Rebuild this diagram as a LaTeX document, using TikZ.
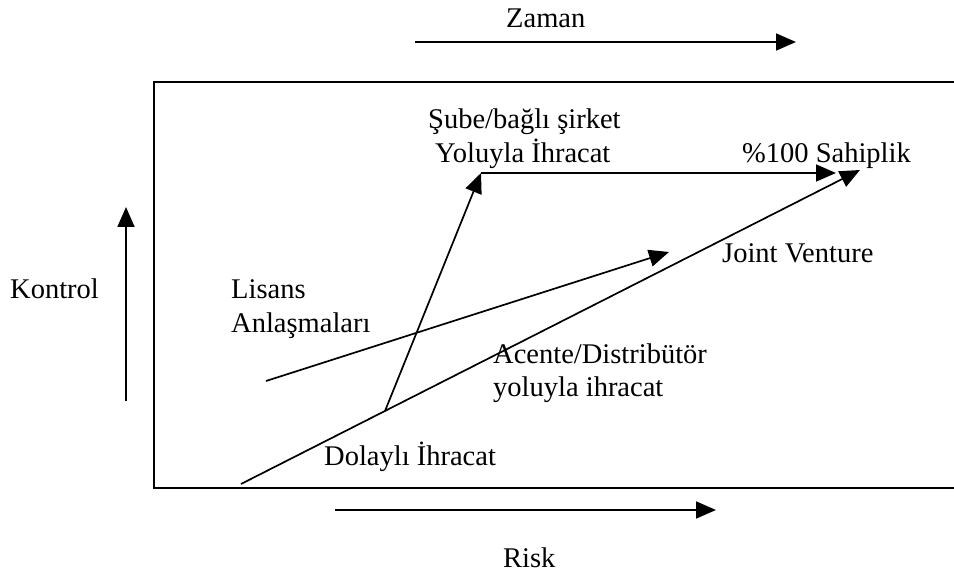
\documentclass[tikz,border=0pt]{standalone}
\usepackage{fontspec}
\setmainfont{Liberation Serif}
\usetikzlibrary{arrows.meta}
\begin{document}
\begin{tikzpicture}[x=1pt,y=-1pt,
  lbl/.style={anchor=base west,inner sep=0pt,font=\fontsize{28.5}{30}\selectfont},
  ln/.style={line width=1.7pt},
  arr/.style={line width=1.7pt,-{Triangle[length=20pt,width=17pt]}}]
\useasboundingbox (0,0) rectangle (954,575);
% frame (open to the right)
\coordinate (fTR) at (954,82);
\coordinate (fTL) at (154,82);
\coordinate (fBL) at (154,488);
\coordinate (fBR) at (954,488);
\draw[ln] (fTR) -- (fTL) -- (fBL) -- (fBR);
% axes
\coordinate (zA) at (415,42); \coordinate (zB) at (796,42);
\draw[arr] (zA) -- (zB);
\coordinate (kA) at (126,401); \coordinate (kB) at (126,207);
\draw[arr] (kA) -- (kB);
\coordinate (rA) at (335,510); \coordinate (rB) at (716,510);
\draw[arr] (rA) -- (rB);
% paths
\coordinate (dStart) at (241,484);
\coordinate (jvEnd) at (860,170);
\coordinate (branch) at (385,411);
\coordinate (corner) at (481,173);
\coordinate (sahEnd) at (836,173);
\coordinate (lStart) at (266,381);
\coordinate (lEnd) at (669,252);
\draw[arr] (dStart) -- (jvEnd);
\draw[arr] (branch) -- (corner);
\draw[arr] (corner) -- (sahEnd);
\draw[arr] (lStart) -- (lEnd);
% labels
\node[lbl] (zaman) at (506,28) {Zaman};
\node[lbl] (kontrol) at (10,298) {Kontrol};
\node[lbl] (risk) at (503,567) {Risk};
\node[lbl] (sube1) at (428,129) {Şube/bağlı şirket};
\node[lbl] (sube2) at (435,163) {Yoluyla İhracat};
\node[lbl] (sahip) at (742,163) {\%100 Sahiplik};
\node[lbl] (jv) at (722,262) {Joint Venture};
\node[lbl] (lis1) at (231,298) {Lisans};
\node[lbl] (lis2) at (231,332) {Anlaşmaları};
\node[lbl] (ac1) at (493,363) {Acente/Distribütör};
\node[lbl] (ac2) at (493,396) {yoluyla ihracat};
\node[lbl] (dol) at (324,465) {Dolaylı İhracat};
\end{tikzpicture}
\end{document}
